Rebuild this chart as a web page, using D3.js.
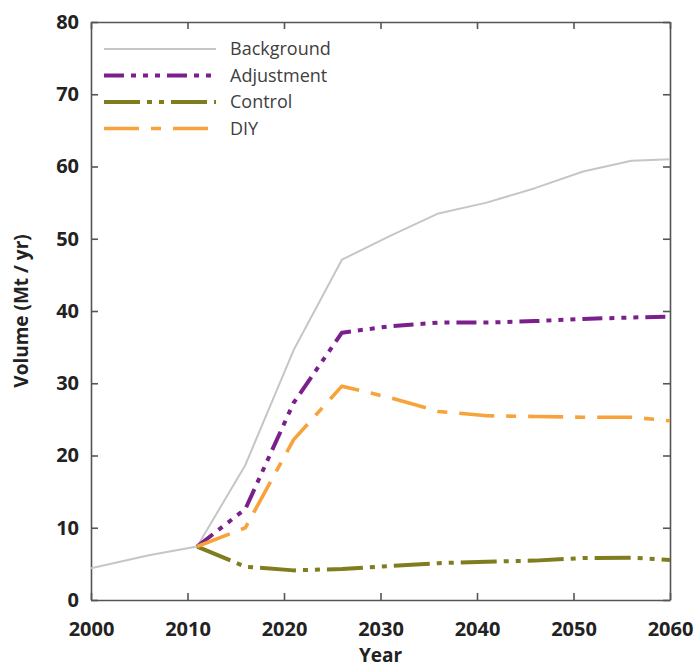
<!DOCTYPE html>
<html>
<head>
<title>Volume projection | D3</title>
<script src="https://d3js.org/d3.v7.min.js" charset="utf-8"></script>
<style>
body {
    margin: 0;
    background: white;
    font-family: "Open Sans", sans-serif;
}
.axis text {
    font-family: "Open Sans", sans-serif;
    font-weight: 700;
    font-size: 20px;
    fill: #222;
}
.axis path, .axis line {
    stroke: #555;
    stroke-width: 1.6;
}
.legend text {
    font-size: 18px;
    fill: #404040;
}
</style>
</head>
<body>
<script>
// years sampled along every series
var years = [2000, 2006, 2011, 2016, 2021, 2026, 2031, 2036, 2041, 2046, 2051, 2056, 2060];
// values (Mt / yr); null where a series is not drawn
var background = [4.4, 6.2, 7.4, 18.7, 34.6, 47.1, 50.4, 53.5, 55.0, 57.0, 59.3, 60.8, 61.0];
var adjustment = [null, null, 7.4, 12.6, 27.3, 37.0, 37.9, 38.4, 38.4, 38.6, 38.9, 39.1, 39.2];
var control    = [null, null, 7.4, 4.6, 4.1, 4.3, 4.7, 5.1, 5.3, 5.45, 5.8, 5.85, 5.55];
var diy        = [null, null, 7.4, 10.0, 22.2, 29.6, 28.0, 26.1, 25.5, 25.4, 25.3, 25.3, 24.8];

var seriesNames = ["Background", "Adjustment", "Control", "DIY"];
var seriesData = [background, adjustment, control, diy];
var seriesColors = ["#c6c6c6", "#7b1f8c", "#7f7d1e", "#f7a33a"];
var seriesWidths = [2, 4, 4, 3.6];
var seriesDash = [null, "20,7,5,7,5,7,5,7", "36,7,5,7,5,7", "35,12,10,12"];

var xTicks = [2000, 2010, 2020, 2030, 2040, 2050, 2060];
var yTicks = [0, 10, 20, 30, 40, 50, 60, 70, 80];

var width = 697;
var height = 669;
var margin = {top: 22, right: 27, bottom: 69, left: 91};

var svg = d3.select("body")
    .append("svg")
    .attr("width", width)
    .attr("height", height);

var x = d3.scaleLinear()
    .domain([2000, 2060])
    .range([margin.left, width - margin.right]);
var y = d3.scaleLinear()
    .domain([0, 80])
    .range([height - margin.bottom, margin.top]);

// frame with inward ticks on all four sides
svg.append("g")
    .attr("class", "axis")
    .attr("transform", "translate(0," + y(0) + ")")
    .call(d3.axisBottom(x).tickValues(xTicks).tickFormat(d3.format("d"))
        .tickSizeInner(-7).tickSizeOuter(0).tickPadding(22));
svg.append("g")
    .attr("class", "axis")
    .attr("transform", "translate(0," + y(80) + ")")
    .call(d3.axisTop(x).tickValues(xTicks).tickFormat("")
        .tickSizeInner(-7).tickSizeOuter(0));
svg.append("g")
    .attr("class", "axis")
    .attr("transform", "translate(" + x(2000) + ",0)")
    .call(d3.axisLeft(y).tickValues(yTicks)
        .tickSizeInner(-7).tickSizeOuter(0).tickPadding(12));
svg.append("g")
    .attr("class", "axis")
    .attr("transform", "translate(" + x(2060) + ",0)")
    .call(d3.axisRight(y).tickValues(yTicks).tickFormat("")
        .tickSizeInner(-7).tickSizeOuter(0));

// axis titles
svg.append("text")
    .attr("x", x(2030))
    .attr("y", 662)
    .attr("text-anchor", "middle")
    .style("font-weight", 700)
    .style("font-size", "19px")
    .style("fill", "#222")
    .text("Year");
svg.append("text")
    .attr("transform", "translate(28," + (y(0) + y(80)) / 2 + ") rotate(-90)")
    .attr("text-anchor", "middle")
    .style("font-weight", 700)
    .style("font-size", "19px")
    .style("fill", "#222")
    .text("Volume (Mt / yr)");

var line = d3.line()
    .defined(function(d) { return d.v != null; })
    .x(function(d) { return x(d.year); })
    .y(function(d) { return y(d.v); });

var lines = svg.append("g");
seriesData.forEach(function(vals, i) {
    var pts = years.map(function(yr, j) { return {year: yr, v: vals[j]}; });
    lines.append("path")
        .datum(pts)
        .attr("fill", "none")
        .attr("stroke", seriesColors[i])
        .attr("stroke-width", seriesWidths[i])
        .attr("stroke-dasharray", seriesDash[i])
        .attr("stroke-linejoin", "round")
        .attr("d", line);
});

// legend
var legend = svg.append("g").attr("class", "legend");
seriesNames.forEach(function(name, i) {
    var ly = 49 + i * 26.5;
    legend.append("line")
        .attr("x1", 104).attr("x2", 216)
        .attr("y1", ly).attr("y2", ly)
        .attr("stroke", seriesColors[i])
        .attr("stroke-width", seriesWidths[i])
        .attr("stroke-dasharray", seriesDash[i]);
    legend.append("text")
        .attr("x", 230)
        .attr("y", ly)
        .attr("dy", "0.35em")
        .text(name);
});
</script>
</body>
</html>
